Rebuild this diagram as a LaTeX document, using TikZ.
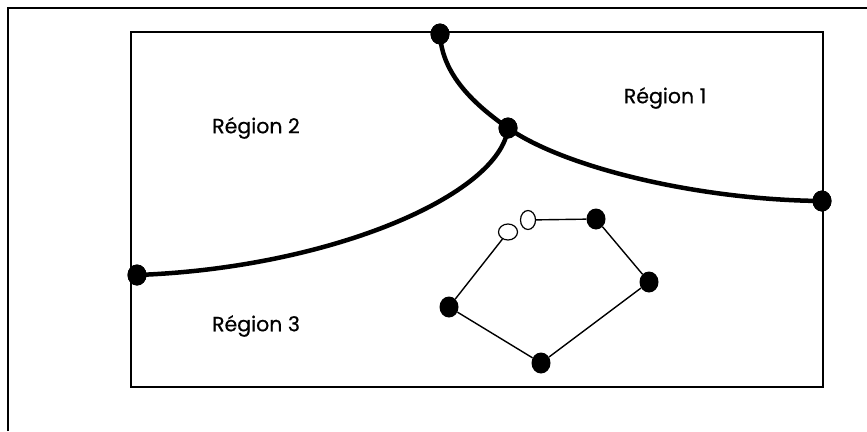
\documentclass[tikz,border=0pt]{standalone}
\usepackage{fontspec}
\setmainfont{Poppins}[FakeBold=0.6,AutoFakeBold=0.6]
\usetikzlibrary{shapes.geometric}
\begin{document}
\begin{tikzpicture}[x=1pt,y=-1pt,
  dot/.style={ellipse,fill=black,inner sep=0pt,minimum width=19pt,minimum height=21pt},
  hole/.style={ellipse,draw=black,fill=white,line width=1.2pt,inner sep=0pt},
  border/.style={line width=1.6pt},
  thin/.style={line width=1.4pt},
  thick/.style={line width=4.5pt},
  lbl/.style={font=\fontsize{20.5}{24}\selectfont}]
\useasboundingbox (0,0) rectangle (867,431);
% outer frame (top and left edges visible)
\draw[line width=1.2pt] (8,431) -- (8,8) -- (867,8);
% inner rectangle
\draw[border] (131,32) rectangle (823,387);
% curve nodes
\node[dot] (t) at (440,34) {};
\node[dot] (j) at (508,128) {};
\node[dot] (r) at (822,201) {};
\node[dot] (l) at (137,275) {};
\draw[thick] (t.center) .. controls (442,75) and (475,105) .. (j.center);
\draw[thick] (j.center) .. controls (565,168) and (700,200) .. (r.center);
\draw[thick] (j.center) .. controls (500,195) and (330,268) .. (l.center);
\node[dot] at (t) {};
\node[dot] at (j) {};
\node[dot] at (r) {};
\node[dot] at (l) {};
% polygon
\node[hole,minimum width=19pt,minimum height=16pt] (e1) at (508,232) {};
\node[hole,minimum width=15pt,minimum height=19pt] (e2) at (528,220) {};
\node[dot] (p1) at (596,219) {};
\node[dot] (p2) at (649,282) {};
\node[dot] (p3) at (541,363) {};
\node[dot] (p4) at (449,307) {};
\draw[thin] (e2) -- (p1) -- (p2) -- (p3) -- (p4) -- (e1);
% labels
\node[lbl] (r1) at (665,98) {\bfseries Région 1};
\node[lbl] (r2) at (256,128) {\bfseries Région 2};
\node[lbl] (r3) at (256,326) {\bfseries Région 3};
\end{tikzpicture}
\end{document}
